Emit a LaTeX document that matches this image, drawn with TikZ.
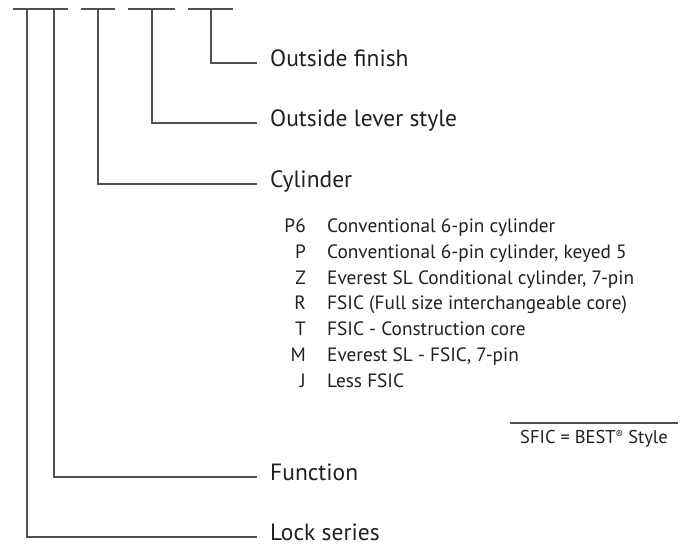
\documentclass[tikz,border=0pt]{standalone}
\usepackage{fontspec}
\setmainfont{PT Sans}
\definecolor{ink}{HTML}{231F20}
\definecolor{rule}{HTML}{505050}
\begin{document}
\begin{tikzpicture}[x=1pt,y=-1pt,
  conn/.style={draw=rule,line width=1.3pt},
  head/.style={anchor=west,inner xsep=13pt,inner ysep=0pt,text height=0.72em,text depth=0pt,text=ink,font=\fontsize{23.5}{26}\selectfont},
  code/.style={anchor=east,inner sep=0pt,text height=0.72em,text depth=0pt,text=ink,font=\fontsize{19.3}{21}\selectfont},
  desc/.style={anchor=west,inner sep=0pt,text height=0.72em,text depth=0pt,text=ink,font=\fontsize{19.3}{21}\selectfont},
  notetext/.style={anchor=center,inner sep=0pt,text height=0.72em,text depth=0pt,text=ink,font=\fontsize{18.5}{20}\selectfont}]
\useasboundingbox (0,0) rectangle (687,550);
% top blanks and stems
\coordinate (s1) at (27,9);
\coordinate (s2) at (54,9);
\coordinate (s3) at (98,9);
\coordinate (s4) at (152,9);
\coordinate (s5) at (211,9);
\draw[conn] ([xshift=-14pt]s1) -- ([xshift=14pt]s1);
\draw[conn] ([xshift=-13pt]s2) -- ([xshift=14pt]s2);
\draw[conn] ([xshift=-17pt]s3) -- ([xshift=17pt]s3);
\draw[conn] ([xshift=-24pt]s4) -- ([xshift=23pt]s4);
\draw[conn] ([xshift=-23pt]s5) -- ([xshift=22pt]s5);
% labels
\node[head] (finish) at (257,63) {Outside finish};
\node[head] (lever) at (257,123) {Outside lever style};
\node[head] (cyl) at (257,184) {Cylinder};
\node[head] (func) at (257,477) {Function};
\node[head] (series) at (257,537) {Lock series};
\draw[conn] (s5) |- (finish.west);
\draw[conn] (s4) |- (lever.west);
\draw[conn] (s3) |- (cyl.west);
\draw[conn] (s2) |- (func.west);
\draw[conn] (s1) |- (series.west);
% cylinder options
\node[code] (c1) at (306,229) {P6};
\node[desc] (d1) at (327,229) {Conventional 6-pin cylinder};
\node[code] (c2) at (306,255) {P};
\node[desc] (d2) at (327,255) {Conventional 6-pin cylinder, keyed 5};
\node[code] (c3) at (306,281) {Z};
\node[desc] (d3) at (327,281) {Everest SL Conditional cylinder, 7-pin};
\node[code] (c4) at (306,306) {R};
\node[desc] (d4) at (327,306) {FSIC (Full size interchangeable core)};
\node[code] (c5) at (306,332) {T};
\node[desc] (d5) at (327,332) {FSIC - Construction core};
\node[code] (c6) at (306,358) {M};
\node[desc] (d6) at (327,358) {Everest SL - FSIC, 7-pin};
\node[code] (c7) at (306,384) {J};
\node[desc] (d7) at (327,384) {Less FSIC};
% note
\coordinate (na) at (510,423);
\coordinate (nb) at (678,423);
\draw[conn] (na) -- (nb);
\node[notetext] (note) at (594,440) {SFIC = BEST{\fontsize{11}{11}\selectfont\raisebox{0.5em}{®}} Style};
\end{tikzpicture}
\end{document}
